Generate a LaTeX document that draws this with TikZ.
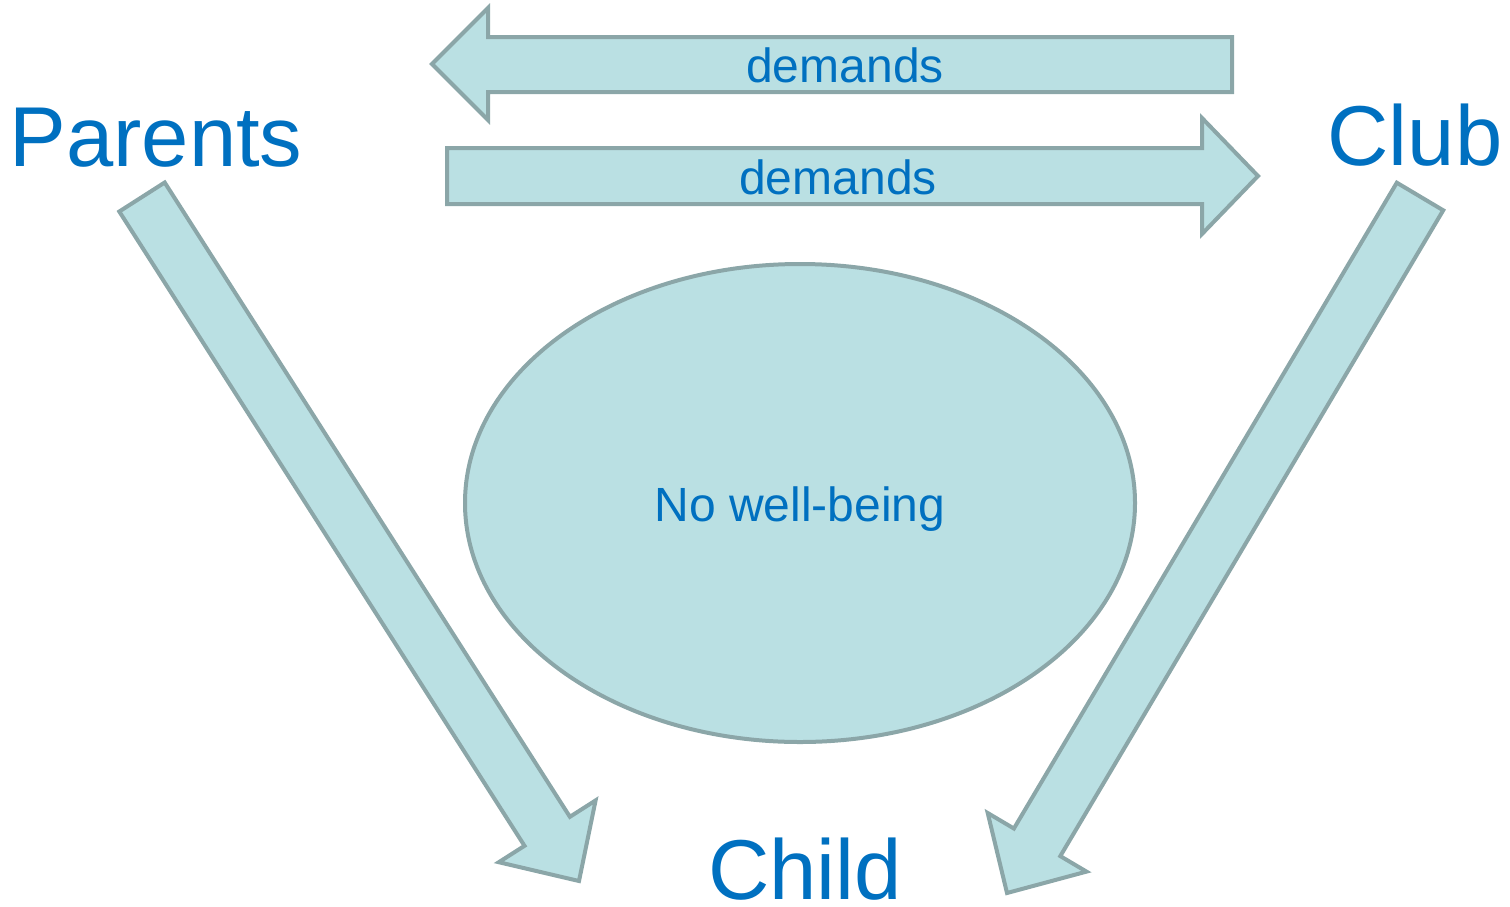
\documentclass[tikz,border=0pt]{standalone}
\usepackage{fontspec}
\setmainfont{Liberation Sans}
\usetikzlibrary{shapes.geometric}
\definecolor{arrfill}{RGB}{186,224,227}
\definecolor{arrline}{RGB}{139,166,168}
\definecolor{txtblue}{RGB}{0,112,192}
\tikzset{
  blockarrow/.style={fill=arrfill, draw=arrline, line width=4pt, line join=miter},
  bigtext/.style={text=txtblue, font=\fontsize{85}{85}\selectfont, anchor=base, inner sep=0pt},
  smalltext/.style={text=txtblue, font=\fontsize{48}{48}\selectfont, anchor=base, inner sep=0pt},
}
\begin{document}
\begin{tikzpicture}[x=1pt,y=-1pt]
\useasboundingbox (0,0) rectangle (1510,906);
% top arrow (pointing left)
\draw[blockarrow] (1232,37) -- (488,37) -- (488,8) -- (432,64) -- (488,120) -- (488,92) -- (1232,92) -- cycle;
% second arrow (pointing right)
\draw[blockarrow] (447,148) -- (1202,148) -- (1202,118) -- (1258,176) -- (1202,234) -- (1202,204) -- (447,204) -- cycle;
% left diagonal arrow
\draw[blockarrow] (164.7,182.5) -- (569.9,816.8) -- (595.6,800.4) -- (579,881) -- (498.8,862.2) -- (524.5,845.8) -- (119.3,211.5) -- cycle;
% right diagonal arrow
\draw[blockarrow] (1443.2,210.3) -- (1060.3,856.1) -- (1086.5,871.6) -- (1007,893) -- (987.7,813.0) -- (1013.9,828.5) -- (1396.8,182.7) -- cycle;
% ellipse
\node[ellipse, fill=arrfill, draw=arrline, line width=4pt, minimum width=670pt, minimum height=478pt, inner sep=0pt] (well) at (800,503) {};
\node[smalltext] (welltxt) at (800,521) {No well-being};
% labels
\node[smalltext] (dem1) at (845,82) {demands};
\node[smalltext] (dem2) at (838,194) {demands};
\node[bigtext] (parents) at (156,166) {Parents};
\node[bigtext] (club) at (1415,165) {Club};
\node[bigtext, text depth=0pt] (child) at (805,899) {Child};
\end{tikzpicture}
\end{document}
